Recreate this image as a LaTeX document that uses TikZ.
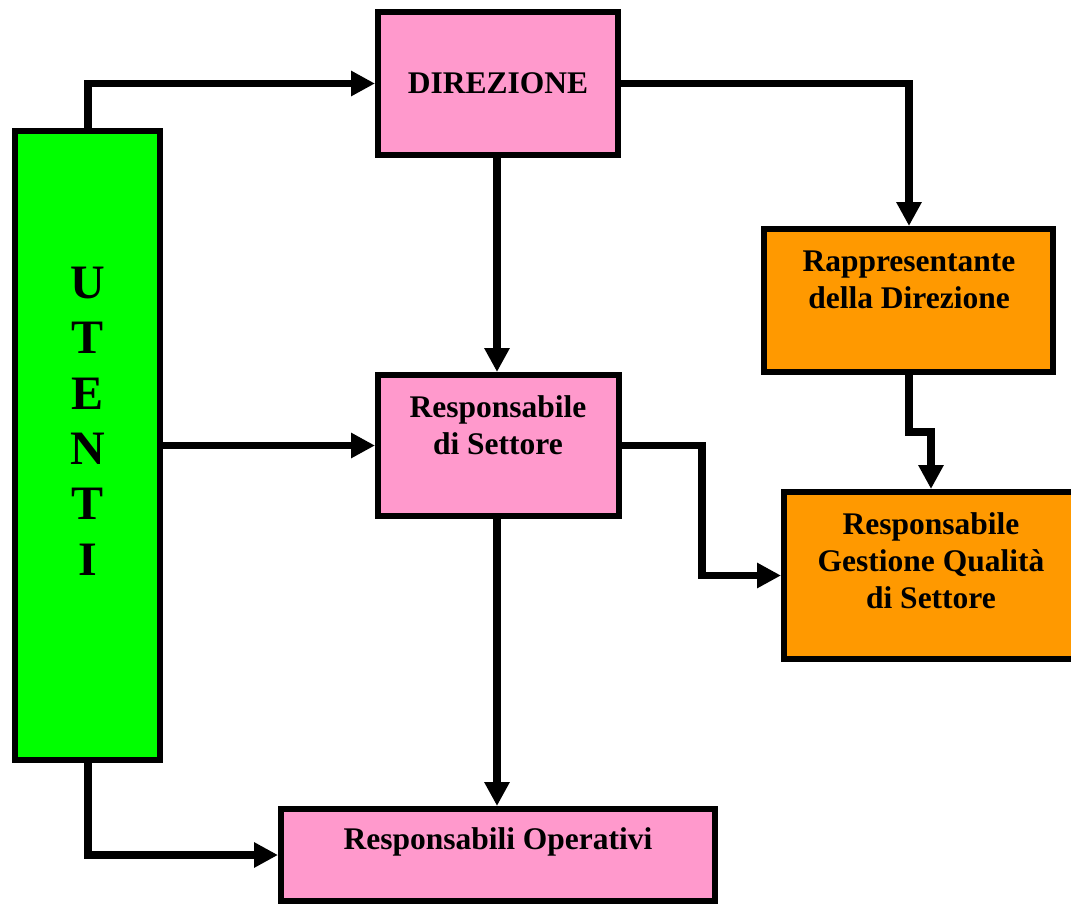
\documentclass[tikz,border=0pt]{standalone}
\usepackage{fontspec}
\setmainfont{Liberation Serif}
\usetikzlibrary{arrows.meta}
\definecolor{rosa}{HTML}{FF99CC}
\definecolor{verde}{HTML}{00FF00}
\definecolor{arancio}{HTML}{FF9900}
\begin{document}
\begin{tikzpicture}[x=1pt,y=-1pt,
  boxbase/.style={draw=black, line width=6pt, rectangle, inner sep=0pt, anchor=north west},
  pinkbox/.style={boxbase, fill=rosa},
  greenbox/.style={boxbase, fill=verde},
  orangebox/.style={boxbase, fill=arancio},
  label/.style={align=center, font=\bfseries\fontsize{31.5}{37}\selectfont, inner sep=0pt},
  arr/.style={line width=7.5pt, -{Triangle[length=24pt,width=24pt]}}]
\useasboundingbox (0,0) rectangle (1071,905);
\clip (0,0) rectangle (1071,905);

% boxes, placed by their outer top-left corner
\node[greenbox, minimum width=145pt, minimum height=629pt] (ut) at (12,128) {};
\node[pinkbox, minimum width=240pt, minimum height=143pt] (dir) at (375,9) {};
\node[pinkbox, minimum width=241pt, minimum height=141pt] (rds) at (375,372) {};
\node[pinkbox, minimum width=434pt, minimum height=92pt] (rop) at (278,806) {};
\node[orangebox, minimum width=289pt, minimum height=143pt] (rap) at (761,226) {};
\node[orangebox, minimum width=300pt, minimum height=167pt] (rgq) at (781,489) {};

% texts
\node[label, font=\bfseries\fontsize{48}{55.4}\selectfont] (utt) at (88,421) {U\\T\\E\\N\\T\\I};
\node[label] (dirt) at (dir.center) {DIREZIONE};
\node[label] (rdst) at (498,425) {Responsabile\\di Settore};
\node[label] (ropt) at (498,842) {Responsabili Operativi};
\node[label] (rapt) at (909,280) {Rappresentante\\della Direzione};
\node[label] (rgqt) at (931,561) {Responsabile\\Gestione Qualità\\di Settore};

% connectors
\draw[arr] (ut.north -| 88,0) |- (dir.west);
\draw[arr] (ut.east |- rds.west) -- (rds.west);
\draw[arr] (ut.south -| 88,0) |- (rop.west);
\draw[arr] (dir.south -| 497,0) -- (rds.north -| 497,0);
\draw[arr] (rds.south -| 497,0) -- (rop.north -| 497,0);
\draw[arr] (dir.east) -| (rap.north -| 909,0);
\draw[arr] (rap.south -| 909,0) -- (909,432) -| (rgq.north -| 931,0);
\draw[arr] (rds.east) -- ++(80,0) |- (rgq.west);
\end{tikzpicture}
\end{document}
